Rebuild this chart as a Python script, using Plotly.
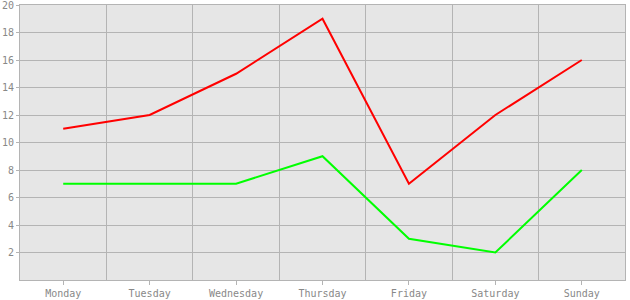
import plotly.graph_objects as go

days = ["Monday", "Tuesday", "Wednesday", "Thursday", "Friday", "Saturday", "Sunday"]
red_values = [11, 12, 15, 19, 7, 12, 16]
green_values = [7, 7, 7, 9, 3, 2, 8]
y_ticks = [2, 4, 6, 8, 10, 12, 14, 16, 18, 20]

x_idx = list(range(len(days)))
boundaries = [i + 0.5 for i in range(len(days) - 1)]

grid = "#b4b4b4"
text = "#888888"
font = dict(family="DejaVu Sans Mono", size=10, color=text)

fig = go.Figure()
fig.add_trace(go.Scatter(x=x_idx, y=red_values, mode="lines",
                         line=dict(color="#ff0000", width=2), showlegend=False))
fig.add_trace(go.Scatter(x=x_idx, y=green_values, mode="lines",
                         line=dict(color="#00ff00", width=2), showlegend=False))
fig.add_trace(go.Scatter(x=[], y=[], xaxis="x2", showlegend=False))

fig.update_layout(
    width=630, height=300,
    margin=dict(l=20, r=5, t=5, b=20),
    paper_bgcolor="white", plot_bgcolor="#e6e6e6",
    font=font,
    xaxis=dict(range=[-0.5, len(days) - 0.5], tickvals=x_idx, ticktext=days,
               showgrid=False, zeroline=False, ticks="outside", ticklen=4,
               tickcolor=grid, showline=True, linecolor=grid, linewidth=1,
               mirror=True, tickfont=font, automargin=False),
    xaxis2=dict(overlaying="x", range=[-0.5, len(days) - 0.5], tickvals=boundaries,
                showgrid=True, gridcolor=grid, gridwidth=1, showticklabels=False,
                ticks="", zeroline=False, showline=False, automargin=False),
    yaxis=dict(range=[0, 20], tickvals=y_ticks, showgrid=True, gridcolor=grid,
               gridwidth=1, zeroline=False, ticks="outside", ticklen=3,
               tickcolor=grid, showline=True, linecolor=grid, linewidth=1,
               mirror=True, tickfont=font, automargin=False,
               ticklabeloverflow="allow"),
)

fig.write_html("out.html")
